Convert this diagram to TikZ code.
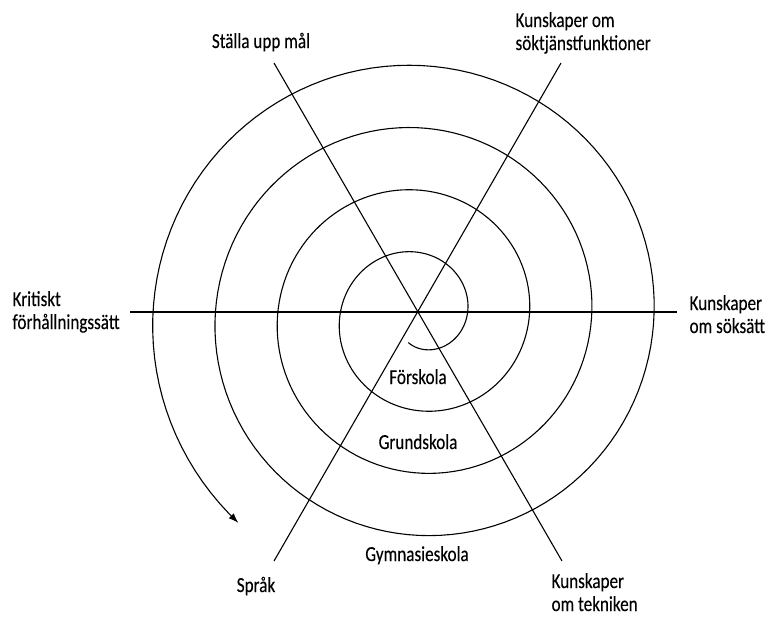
\documentclass[tikz,border=0pt]{standalone}
\usepackage{fontspec}
\setmainfont{Carlito}[FakeStretch=0.8, FakeBold=0.2]
\usetikzlibrary{arrows.meta, positioning, calc}

\begin{document}
\begin{tikzpicture}[x=0.5pt, y=-0.5pt, line width=0.55pt,
    font=\fontsize{10.7}{11.5}\selectfont,
    axistext/.style={inner sep=0pt, align=left, anchor=base west},
    stagetext/.style={inner sep=0pt, anchor=base}]
    \useasboundingbox (0,0) rectangle (769,616);

    \coordinate (w) at (130,312);
    \coordinate (e) at (677,312);
    \coordinate (nw) at (274,63);
    \coordinate (se) at (562,561);
    \coordinate (ne) at (561,63);
    \coordinate (sw) at (274,561);

    \draw (w) -- (e);
    \draw (nw) -- (se);
    \draw (ne) -- (sw);

    \draw[-{Latex[length=5pt,width=3.5pt]}, domain=-1.955:22.85, samples=500, variable=\t]
        plot ({419+(48+9.92*\t)*cos(\t r)}, {316-(48+9.92*\t)*sin(\t r)});

    \node (mal) [axistext, anchor=base] at (261,48) {Ställa upp mål};
    \node (sokfunk) [axistext] at (515,50) {Kunskaper om\\söktjänstfunktioner};
    \node (kritiskt) [axistext] at (12,329) {Kritiskt\\förhållningssätt};
    \node (soksatt) [axistext] at (689,333) {Kunskaper\\om söksätt};
    \node (sprak) [axistext, anchor=base] at (256,592) {Språk};
    \node (teknik) [axistext] at (551,611) {Kunskaper\\om tekniken};

    \node (forskola) [stagetext] at (418,384) {Förskola};
    \node (grundskola) [stagetext] at (418,449) {Grundskola};
    \node (gymnasie) [stagetext] at (417,561) {Gymnasieskola};
\end{tikzpicture}
\end{document}
